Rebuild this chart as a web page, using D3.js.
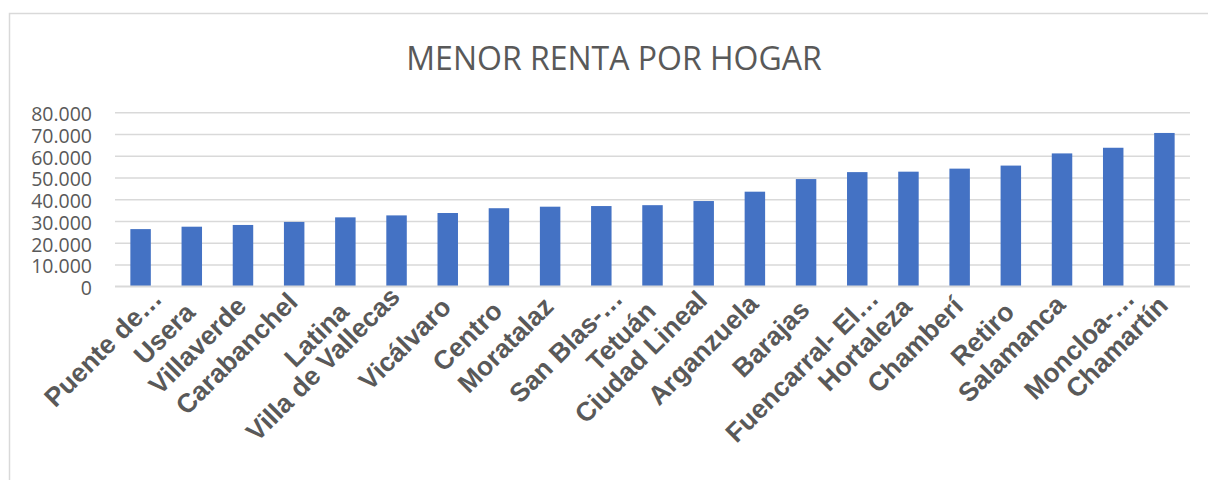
<!DOCTYPE html>
<html>
<head>
<meta charset="utf-8">
<script src="https://cdn.jsdelivr.net/npm/d3@7"></script>
<style>
  html, body { margin: 0; padding: 0; background: #ffffff; }
  svg { display: block; }
</style>
</head>
<body>
<svg id="chart" width="1208" height="480"></svg>
<script>
const title = "MENOR RENTA POR HOGAR";
const categories = [
  "Puente de…", "Usera", "Villaverde", "Carabanchel", "Latina",
  "Villa de Vallecas", "Vicálvaro", "Centro", "Moratalaz", "San Blas-…",
  "Tetuán", "Ciudad Lineal", "Arganzuela", "Barajas", "Fuencarral- El…",
  "Hortaleza", "Chamberí", "Retiro", "Salamanca", "Moncloa-…", "Chamartín"
];
const values = [
  26300, 27400, 28200, 29600, 31700,
  32600, 33700, 35900, 36600, 36900,
  37300, 39200, 43500, 49300, 52500,
  52700, 54100, 55500, 61100, 63700, 70500
];
const yTicks = [0, 10000, 20000, 30000, 40000, 50000, 60000, 70000, 80000];

const svg = d3.select("#chart");
const plot = { left: 115, right: 1190, top: 112.3, bottom: 286.3 };
const grey = "#595959";
const gridColor = "#d9d9d9";
const barColor = "#4472C4";

// outer chart border
svg.append("rect")
  .attr("x", 9.5).attr("y", 13.5)
  .attr("width", 1400).attr("height", 1000)
  .attr("fill", "#ffffff")
  .attr("stroke", gridColor).attr("stroke-width", 1.5);

const x = d3.scaleBand()
  .domain(categories)
  .range([plot.left, plot.right])
  .paddingInner(0.6)
  .paddingOuter(0.3);

const y = d3.scaleLinear()
  .domain([0, 80000])
  .range([plot.bottom, plot.top]);

const locale = d3.formatLocale({ decimal: ",", thousands: ".", grouping: [3], currency: ["", "€"] });
const fmt = locale.format(",");

// title
svg.append("text")
  .attr("x", 614).attr("y", 69.5)
  .attr("text-anchor", "middle")
  .attr("font-family", "'Open Sans', sans-serif")
  .attr("font-size", 32)
  .attr("fill", grey)
  .text(title);

// gridlines + y labels via axis
const yAxis = d3.axisLeft(y)
  .tickValues(yTicks)
  .tickSize(-(plot.right - plot.left))
  .tickPadding(23)
  .tickFormat(d => d === 0 ? "0" : fmt(d));

const gy = svg.append("g")
  .attr("transform", `translate(${plot.left},0)`)
  .call(yAxis);
gy.select(".domain").remove();
gy.selectAll(".tick line")
  .attr("stroke", gridColor)
  .attr("stroke-width", 1.5);
gy.selectAll(".tick text")
  .attr("font-family", "'Open Sans', sans-serif")
  .attr("font-size", 19.5)
  .attr("fill", grey)
  .attr("dy", "0.42em");

// bars
svg.append("g").selectAll("rect")
  .data(categories.map((c, i) => ({ c, v: values[i] })))
  .join("rect")
  .attr("x", d => x(d.c))
  .attr("width", x.bandwidth())
  .attr("y", d => y(d.v))
  .attr("height", d => y(0) - y(d.v))
  .attr("fill", barColor);

// baseline axis line
svg.append("line")
  .attr("x1", plot.left).attr("x2", plot.right)
  .attr("y1", y(0)).attr("y2", y(0))
  .attr("stroke", gridColor).attr("stroke-width", 1.5);

// x labels, rotated -45
const gx = svg.append("g");
const labels = gx.selectAll("text")
  .data(categories)
  .join("text")
  .attr("font-family", "'Liberation Sans', Arial, sans-serif")
  .attr("font-weight", "bold")
  .attr("font-size", 26.5)
  .attr("fill", grey)
  .attr("text-anchor", "end")
  .text(d => d);

let maxLen = 0;
labels.each(function () { maxLen = Math.max(maxLen, this.getComputedTextLength()); });
labels.attr("transform", function (d) {
  const len = this.getComputedTextLength();
  const trunc = d.endsWith("…");
  const cx = x(d) + x.bandwidth() / 2;
  const ex = cx + (trunc ? 23 : 5);
  const ey = trunc ? y(0) + 14 : y(0) + 12 + 0.12 * (maxLen - len);
  return `translate(${ex},${ey}) rotate(-45)`;
});
</script>
</body>
</html>
